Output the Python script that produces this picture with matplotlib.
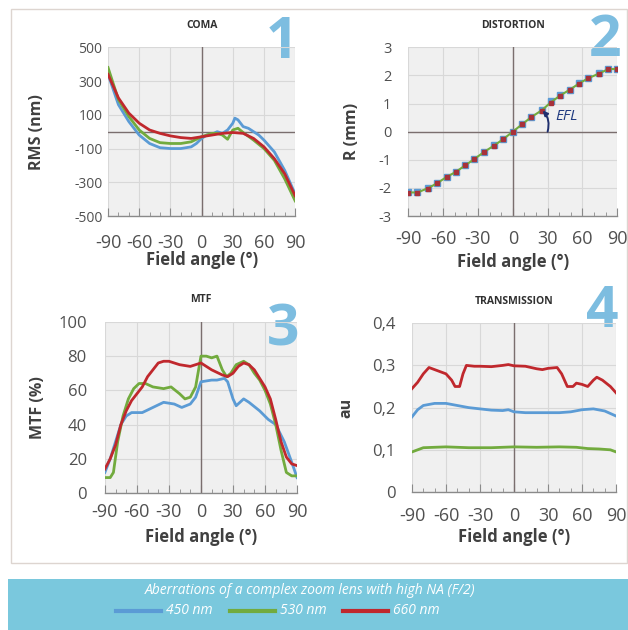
import numpy as np
import matplotlib.pyplot as plt
from matplotlib.patches import Rectangle
from matplotlib.ticker import MultipleLocator

plt.rcParams['font.family'] = ['Open Sans', 'DejaVu Sans']
plt.rcParams['axes.unicode_minus'] = False

BLUE = '#5b9bd5'
GREEN = '#72ab3e'
RED = '#c0282d'
NUM_COLOR = '#7dbde0'

# --- COMA (RMS nm vs field angle) ---
coma_x_blue = [-90, -80, -70, -60, -50, -40, -30, -20, -10, -5, 0, 5, 10, 15, 20, 25, 30, 32, 35, 40, 45, 50, 55, 60, 70, 80, 90]
coma_blue = [340, 160, 60, -20, -70, -95, -100, -100, -90, -70, -40, -20, -15, 0, -10, 10, 50, 80, 70, 30, 20, 0, -20, -50, -120, -230, -370]
coma_x_green = [-90, -80, -70, -60, -50, -40, -30, -20, -10, 0, 10, 15, 20, 25, 30, 35, 40, 50, 60, 70, 80, 90]
coma_green = [380, 190, 90, 10, -40, -65, -70, -70, -60, -30, -10, -10, -20, -45, 10, 20, -5, -50, -100, -170, -280, -410]
coma_x_red = [-90, -80, -70, -60, -50, -40, -30, -20, -10, 0, 10, 20, 30, 40, 50, 60, 70, 80, 90]
coma_red = [340, 200, 110, 50, 10, -10, -25, -35, -40, -30, -20, -10, -5, -10, -40, -90, -160, -250, -380]

# --- DISTORTION (R mm vs field angle) ---
dist_x = [-90, -82, -73, -65, -57, -49, -41, -33, -25, -16, -8, 0, 8, 16, 25, 33, 41, 49, 57, 65, 74, 82, 90]
dist_blue = [-2.15, -2.15, -2.0, -1.82, -1.6, -1.42, -1.19, -0.96, -0.72, -0.48, -0.25, 0.0, 0.27, 0.52, 0.76, 1.1, 1.29, 1.49, 1.72, 1.9, 2.07, 2.22, 2.23]
dist_green = [-2.16, -2.16, -2.01, -1.83, -1.61, -1.43, -1.2, -0.97, -0.73, -0.49, -0.26, 0.0, 0.26, 0.52, 0.76, 1.05, 1.29, 1.49, 1.71, 1.9, 2.06, 2.22, 2.23]
dist_red = [-2.17, -2.17, -2.02, -1.84, -1.62, -1.44, -1.2, -0.97, -0.73, -0.5, -0.26, 0.0, 0.26, 0.51, 0.75, 1.02, 1.28, 1.48, 1.7, 1.89, 2.05, 2.21, 2.22]

# --- MTF (%) ---
mtf_x_blue = [-90, -85, -80, -75, -70, -65, -55, -45, -35, -25, -18, -10, -5, 0, 10, 15, 22, 25, 30, 33, 40, 45, 55, 63, 70, 78, 85, 90]
mtf_blue = [12, 20, 30, 40, 45, 47, 47, 50, 53, 52, 50, 52, 56, 65, 66, 66, 67, 65, 55, 51, 55, 53, 48, 43, 40, 30, 18, 9]
mtf_x_green = [-90, -85, -82, -78, -73, -68, -63, -58, -52, -45, -35, -28, -20, -15, -10, -5, 0, 5, 10, 15, 20, 24, 28, 33, 40, 45, 50, 55, 60, 65, 70, 75, 80, 85, 90]
mtf_green = [9, 9, 12, 30, 45, 55, 61, 64, 64, 62, 61, 62, 58, 55, 56, 62, 80, 80, 79, 80, 72, 68, 70, 75, 77, 75, 70, 66, 60, 52, 40, 25, 12, 10, 10]
mtf_x_red = [-90, -85, -80, -75, -70, -65, -60, -55, -50, -45, -40, -35, -30, -20, -10, -5, 0, 5, 10, 20, 25, 30, 35, 40, 45, 50, 55, 60, 65, 70, 75, 80, 85, 90]
mtf_red = [14, 20, 28, 40, 48, 54, 58, 62, 68, 72, 76, 77, 77, 75, 74, 75, 76, 74, 72, 69, 68, 70, 74, 76, 75, 72, 67, 62, 55, 43, 30, 21, 17, 16]

# --- TRANSMISSION (au) ---
tr_x_red = [-90, -85, -80, -75, -70, -65, -60, -55, -52, -48, -45, -42, -35, -30, -20, -10, -5, 0, 10, 20, 25, 30, 38, 42, 47, 52, 55, 60, 65, 70, 73, 78, 85, 90]
tr_red = [0.245, 0.26, 0.28, 0.295, 0.29, 0.285, 0.28, 0.265, 0.25, 0.25, 0.28, 0.3, 0.298, 0.298, 0.297, 0.3, 0.302, 0.299, 0.298, 0.292, 0.29, 0.293, 0.295, 0.28, 0.25, 0.25, 0.258, 0.255, 0.25, 0.265, 0.272, 0.265, 0.25, 0.235]
tr_x_blue = [-90, -85, -80, -70, -60, -50, -40, -30, -20, -10, -5, 0, 10, 20, 30, 40, 50, 60, 70, 80, 90]
tr_blue = [0.178, 0.195, 0.205, 0.21, 0.21, 0.205, 0.2, 0.197, 0.194, 0.193, 0.195, 0.19, 0.188, 0.188, 0.188, 0.188, 0.19, 0.195, 0.197, 0.192, 0.18]
tr_x_green = [-90, -85, -80, -60, -40, -20, 0, 20, 40, 55, 65, 75, 85, 90]
tr_green = [0.095, 0.1, 0.105, 0.107, 0.105, 0.105, 0.107, 0.106, 0.107, 0.106, 0.103, 0.102, 0.1, 0.095]

x_ticks = [-90, -60, -30, 0, 30, 60, 90]
legend_labels = ['450 nm', '530 nm', '660 nm']
caption = 'Aberrations of a complex zoom lens with high NA (F/2)'

fig = plt.figure(figsize=(6.28, 6.30), dpi=100)

# outer frame and banner (behind the axes)
fig.patches.append(Rectangle((11 / 628, 1 - 563 / 630), 616 / 628, 554 / 630, transform=fig.transFigure,
                             facecolor='white', edgecolor='#ddd5d0', lw=1.0, zorder=-10))
fig.patches.append(Rectangle((8 / 628, 0), 620 / 628, 51 / 630, transform=fig.transFigure,
                             facecolor='#7ac8dd', edgecolor='none', zorder=-10))


def style_axis(ax, title, number, num_pos, ylabel, yticks, yticklabels, ylim,
               ysize, ypad, xpad, xlab_y, ylab_x, hline=False):
    ax.set_facecolor('#f0f0f0')
    ax.set_xlim(-90, 90)
    ax.set_ylim(*ylim)
    ax.set_xticks(x_ticks)
    ax.xaxis.set_minor_locator(MultipleLocator(10))
    ax.set_yticks(yticks)
    ax.set_yticklabels(yticklabels)
    ax.grid(True, color='#d8d8d8', lw=0.8)
    ax.set_axisbelow(True)
    for s in ['left', 'right', 'top']:
        ax.spines[s].set_visible(False)
    ax.spines['bottom'].set_color('#8a8a8a')
    ax.spines['bottom'].set_linewidth(1.0)
    ax.tick_params(axis='x', which='major', direction='in', length=6, color='#8a8a8a',
                   labelsize=13, labelcolor='#505050', pad=xpad)
    ax.tick_params(axis='x', which='minor', direction='in', length=3, color='#8a8a8a')
    ax.tick_params(axis='y', length=0, labelsize=ysize, labelcolor='#505050', pad=ypad)
    ax.axvline(0, color='#7a6e6e', lw=1.0, zorder=1)
    if hline:
        ax.axhline(0, color='#7a6e6e', lw=1.0, zorder=1)
    ax.set_xlabel('Field angle (°)', fontsize=12, fontweight='bold', color='#404040', va='center')
    ax.xaxis.set_label_coords(0.5, xlab_y)
    ax.set_ylabel(ylabel, fontsize=11.5, fontweight='bold', color='#404040', va='center')
    ax.yaxis.set_label_coords(ylab_x, 0.5)
    ax.set_title(title, fontsize=7.5, fontweight='bold', color='#303030', pad=14)
    ax.text(num_pos[0], num_pos[1], number, transform=ax.transAxes, fontsize=41, fontweight='bold',
            color=NUM_COLOR, ha='center', va='baseline', zorder=0)


# panel 1
ax1 = fig.add_axes([0.172, 0.657, 0.298, 0.268])
style_axis(ax1, 'COMA', '1', (0.93, 0.935), 'RMS (nm)', [500, 300, 100, -100, -300, -500],
           ['500', '300', '100', '-100', '-300', '-500'], (-500, 500),
           ysize=10, ypad=4, xpad=13, xlab_y=-0.26, ylab_x=-0.38, hline=True)
ax1.plot(coma_x_blue, coma_blue, color=BLUE, lw=2)
ax1.plot(coma_x_green, coma_green, color=GREEN, lw=2)
ax1.plot(coma_x_red, coma_red, color=RED, lw=2)

# panel 2
ax2 = fig.add_axes([0.650, 0.657, 0.333, 0.268])
style_axis(ax2, 'DISTORTION', '2', (0.94, 0.947), 'R (mm)', [3, 2, 1, 0, -1, -2, -3],
           ['3', '2', '1', '0', '-1', '-2', '-3'], (-3, 3),
           ysize=10.5, ypad=12, xpad=10, xlab_y=-0.272, ylab_x=-0.268, hline=True)
ax2.plot(dist_x, dist_blue, 's', color=BLUE, ms=4.5, zorder=3)
ax2.plot(dist_x, dist_green, '-', color=GREEN, lw=1.5, zorder=4)
ax2.plot(dist_x, dist_red, 's', color='#a8323a', ms=3.5, zorder=5)
ax2.annotate('', xy=(24, 0.82), xytext=(30, 0.0),
             arrowprops=dict(arrowstyle='-|>', color='#1f2f6e', lw=1.4, mutation_scale=7,
                             shrinkA=0, shrinkB=2, connectionstyle='arc3,rad=0.3'), zorder=6)
ax2.text(37, 0.55, 'EFL', fontsize=11, style='italic', color='#1f3a80', va='center')

# panel 3
ax3 = fig.add_axes([0.167, 0.2175, 0.306, 0.2715])
style_axis(ax3, 'MTF', '3', (0.927, 0.86), 'MTF (%)', [0, 20, 40, 60, 80, 100],
           ['0', '20', '40', '60', '80', '100'], (0, 100),
           ysize=12, ypad=13, xpad=7, xlab_y=-0.257, ylab_x=-0.349)
ax3.plot(mtf_x_blue, mtf_blue, color=BLUE, lw=2)
ax3.plot(mtf_x_green, mtf_green, color=GREEN, lw=2)
ax3.plot(mtf_x_red, mtf_red, color=RED, lw=2)

# panel 4
ax4 = fig.add_axes([0.656, 0.219, 0.325, 0.268])
style_axis(ax4, 'TRANSMISSION', '4', (0.93, 0.976), 'au', [0, 0.1, 0.2, 0.3, 0.4],
           ['0', '0,1', '0,2', '0,3', '0,4'], (0, 0.4),
           ysize=12, ypad=12, xpad=10.5, xlab_y=-0.266, ylab_x=-0.319)
ax4.plot(tr_x_blue, tr_blue, color=BLUE, lw=2)
ax4.plot(tr_x_green, tr_green, color=GREEN, lw=2)
ax4.plot(tr_x_red, tr_red, color=RED, lw=2)

# banner caption and legend
fig.text(310 / 628, 1 - 590 / 630, caption, fontsize=10, style='italic', color='white',
         ha='center', va='center')
legend_colors = [BLUE, GREEN, RED]
line_x0 = [116, 230, 343]
for x0, c, lab in zip(line_x0, legend_colors, legend_labels):
    y = 1 - 611 / 630
    fig.add_artist(plt.Line2D([x0 / 628, (x0 + 45) / 628], [y, y], color=c, lw=3,
                              transform=fig.transFigure))
    fig.text((x0 + 50) / 628, y, lab, fontsize=10, style='italic', color='white',
             ha='left', va='center')

fig.savefig('out.png', dpi=100)
